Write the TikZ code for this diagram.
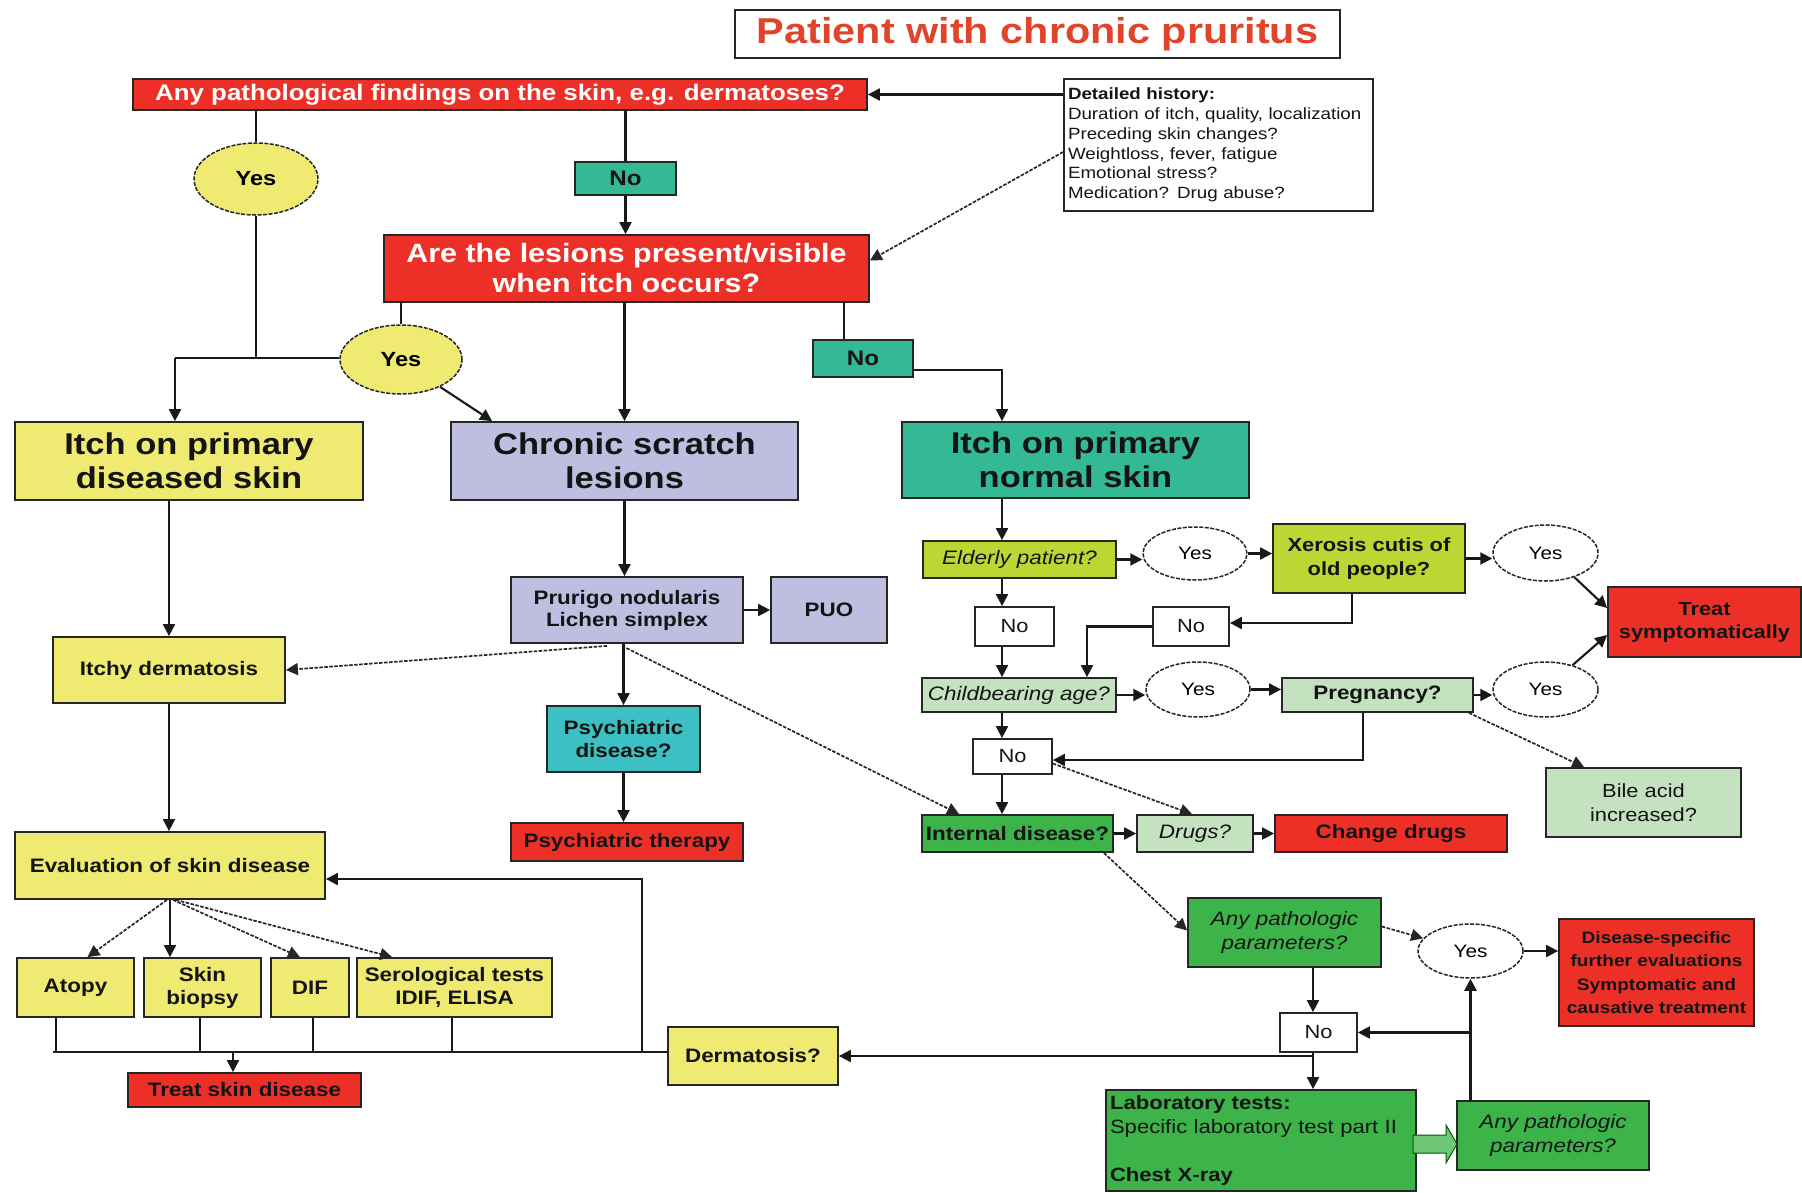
\documentclass[tikz,border=0pt]{standalone}
\usepackage{fontspec}
\setmainfont{Liberation Sans}[FakeStretch=1.15]
\usetikzlibrary{arrows.meta,calc,shapes.geometric}
\definecolor{cred}{HTML}{ED3027}
\definecolor{cyel}{HTML}{EEEA72}
\definecolor{clav}{HTML}{BEBEE0}
\definecolor{cteal}{HTML}{33B996}
\definecolor{ccyan}{HTML}{3CC0C3}
\definecolor{cyg}{HTML}{BDD633}
\definecolor{clg}{HTML}{C4E2C0}
\definecolor{cgrn}{HTML}{3CB44A}
\definecolor{ctitle}{HTML}{E0452C}
\begin{document}
\begin{tikzpicture}[x=1pt,y=-1pt,
  bx/.style={draw=black!85, line width=1.8pt, inner sep=1pt, align=center, text=black!92},
  ln/.style={line width=2.1pt, draw=black!90},
  arr/.style={ln, -{Triangle[length=12pt,width=12pt]}},
  dln/.style={line width=1.7pt, draw=black!85, dash pattern=on 3.5pt off 1.5pt},
  darr/.style={dln, -{Triangle[length=12pt,width=12pt]}},
  ov/.style={ellipse, draw=black!85, line width=1.5pt, dash pattern=on 4pt off 1.5pt, inner sep=0pt},
  fS/.style={font=\fontsize{19.5}{23}\selectfont\bfseries},
  fR/.style={font=\fontsize{19}{23}\selectfont},
  fI/.style={font=\fontsize{19.5}{23}\selectfont\itshape},
  fL/.style={font=\fontsize{30}{34}\selectfont\bfseries},
]
\useasboundingbox (0,0) rectangle (1802,1192);

% ---------- top ----------
\node[bx, fill=white, minimum width=605pt, minimum height=48pt, text=ctitle,
      font=\fontsize{36}{40}\selectfont\bfseries] (title) at (1037.5,34) {Patient with chronic pruritus};
\node[bx, fill=cred, text=white, minimum width=734pt, minimum height=31pt,
      font=\fontsize{22.5}{26}\selectfont\bfseries] (anyp) at (500,94.5) {Any pathological findings on the skin, e.g. dermatoses?};
\node[bx, fill=white, minimum width=309pt, minimum height=132pt, text width=301pt, inner xsep=4pt, align=left,
      font=\fontsize{16.3}{19.8}\selectfont] (hist) at (1218.5,145)
      {\textbf{Detailed history:}\\Duration of itch, quality, localization\\Preceding skin changes?\\Weightloss, fever, fatigue\\Emotional stress?\\Medication? Drug abuse?};
\node[ov, fill=cyel, minimum width=124pt, minimum height=72pt, font=\fontsize{20.5}{24}\selectfont\bfseries] (yes1) at (256,179) {Yes};
\node[bx, fill=cteal, minimum width=101pt, minimum height=33pt, font=\fontsize{21}{24}\selectfont\bfseries] (noA) at (625.5,178.5) {No};
\node[bx, fill=cred, text=white, minimum width=485pt, minimum height=67pt,
      font=\fontsize{26.5}{30}\selectfont\bfseries] (are) at (626.5,268.5) {Are the lesions present/visible\\when itch occurs?};
\node[ov, fill=cyel, minimum width=122pt, minimum height=69pt, font=\fontsize{20.5}{24}\selectfont\bfseries] (yes2) at (401,359.5) {Yes};
\node[bx, fill=cteal, minimum width=100pt, minimum height=37pt, font=\fontsize{21}{24}\selectfont\bfseries] (noB) at (863,358.5) {No};

% ---------- main categories ----------
\node[bx, fill=cyel, minimum width=348pt, minimum height=78pt, fL] (diseased) at (189,461) {Itch on primary\\diseased skin};
\node[bx, fill=clav, minimum width=347pt, minimum height=78pt, fL] (chronic) at (624.5,461) {Chronic scratch\\lesions};
\node[bx, fill=cteal, minimum width=347pt, minimum height=76pt, fL] (normal) at (1075.5,460) {Itch on primary\\normal skin};

% ---------- left column ----------
\node[bx, fill=cyel, minimum width=232pt, minimum height=66pt, fS] (itchy) at (169,670) {Itchy dermatosis};
\node[bx, fill=cyel, minimum width=310pt, minimum height=67pt, fS] (eval) at (170,865.5) {Evaluation of skin disease};
\node[bx, fill=cyel, minimum width=117pt, minimum height=59pt, fS] (atopy) at (75.5,987.5) {Atopy};
\node[bx, fill=cyel, minimum width=117pt, minimum height=59pt, fS] (skin) at (202.5,987.5) {Skin\\biopsy};
\node[bx, fill=cyel, minimum width=78pt, minimum height=59pt, fS] (dif) at (310,987.5) {DIF};
\node[bx, fill=cyel, minimum width=195pt, minimum height=59pt, fS] (sero) at (454.5,987.5) {Serological tests\\IDIF, ELISA};
\node[bx, fill=cred, minimum width=233pt, minimum height=34pt, fS] (treatskin) at (244.5,1090) {Treat skin disease};
\node[bx, fill=cyel, minimum width=170pt, minimum height=58pt, fS] (derm) at (753,1056) {Dermatosis?};

% ---------- middle column ----------
\node[bx, fill=clav, minimum width=232pt, minimum height=66pt, font=\fontsize{19.5}{22}\selectfont\bfseries] (prurigo) at (627,610) {Prurigo nodularis\\Lichen simplex};
\node[bx, fill=clav, minimum width=116pt, minimum height=66pt, fS] (puo) at (829,610) {PUO};
\node[bx, fill=ccyan, minimum width=153pt, minimum height=66pt, fS] (psyd) at (623.5,739) {Psychiatric\\disease?};
\node[bx, fill=cred, minimum width=232pt, minimum height=38pt, fS] (psyt) at (627,842) {Psychiatric therapy};

% ---------- right part ----------
\node[bx, fill=cyg, minimum width=193pt, minimum height=37pt, fI] (elderly) at (1019.5,559.5) {Elderly patient?};
\node[ov, fill=white, minimum width=104pt, minimum height=53pt, font=\fontsize{18}{22}\selectfont] (yesA) at (1195,553.5) {Yes};
\node[bx, fill=cyg, minimum width=192pt, minimum height=69pt, font=\fontsize{19}{24}\selectfont\bfseries] (xero) at (1369,558.5) {Xerosis cutis of\\old people?};
\node[ov, fill=white, minimum width=105pt, minimum height=56pt, font=\fontsize{18}{22}\selectfont] (yesB) at (1545.5,553) {Yes};
\node[bx, fill=cred, minimum width=193pt, minimum height=70pt, font=\fontsize{19}{23}\selectfont\bfseries] (treatsym) at (1704.5,622) {Treat\\symptomatically};
\node[bx, fill=white, minimum width=79pt, minimum height=39pt, fR] (noC) at (1014.5,626.5) {No};
\node[bx, fill=white, minimum width=76pt, minimum height=39pt, fR] (noD) at (1191,626.5) {No};
\node[bx, fill=clg, minimum width=194pt, minimum height=34pt, fI] (child) at (1019,695) {Childbearing age?};
\node[ov, fill=white, minimum width=104pt, minimum height=55pt, font=\fontsize{18}{22}\selectfont] (yesD) at (1198,689.5) {Yes};
\node[bx, fill=clg, minimum width=191pt, minimum height=34pt, fS] (preg) at (1377.5,695) {Pregnancy?};
\node[ov, fill=white, minimum width=105pt, minimum height=55pt, font=\fontsize{18}{22}\selectfont] (yesC) at (1545.5,689.5) {Yes};
\node[bx, fill=white, minimum width=79pt, minimum height=35pt, fR] (noE) at (1012.5,756.5) {No};
\node[bx, fill=clg, minimum width=195pt, minimum height=69pt, font=\fontsize{19}{24}\selectfont] (bile) at (1643.5,802.5) {Bile acid\\increased?};
\node[bx, fill=cgrn, minimum width=191pt, minimum height=37pt, fS] (internal) at (1017.5,833.5) {Internal disease?};
\node[bx, fill=clg, minimum width=116pt, minimum height=37pt, fI] (drugs) at (1195,833.5) {Drugs?};
\node[bx, fill=cred, minimum width=232pt, minimum height=37pt, fS] (change) at (1391,833.5) {Change drugs};
\node[bx, fill=cgrn, minimum width=193pt, minimum height=69pt, font=\fontsize{19.5}{24}\selectfont\itshape] (anyp1) at (1284.5,932.5) {Any pathologic\\parameters?};
\node[ov, fill=white, minimum width=105pt, minimum height=54pt, font=\fontsize{18}{22}\selectfont] (yesE) at (1470.5,951) {Yes};
\node[bx, fill=cred, minimum width=195pt, minimum height=107pt, font=\fontsize{16.6}{23.5}\selectfont\bfseries] (dis) at (1656.5,972.5) {Disease-specific\\further evaluations\\Symptomatic and\\causative treatment};
\node[bx, fill=white, minimum width=77pt, minimum height=39pt, fR] (noF) at (1318.5,1032.5) {No};
\node[bx, fill=cgrn, minimum width=310pt, minimum height=101pt, text width=302pt, inner xsep=4pt, align=left,
      font=\fontsize{19.2}{24}\selectfont] (lab) at (1261,1140.5)
      {\textbf{Laboratory tests:}\\Specific laboratory test part II\\\strut\\\textbf{Chest X-ray}};
\node[bx, fill=cgrn, minimum width=192pt, minimum height=69pt, font=\fontsize{19.5}{24}\selectfont\itshape] (anyp2) at (1553,1135.5) {Any pathologic\\parameters?};

% ---------- helper coordinates ----------
\coordinate (j1) at (175,358);
\coordinate (cB) at (844,0);
\coordinate (c10) at (1002,370);
\coordinate (xA) at (1002,0);
\coordinate (xX) at (1352,0);
\coordinate (yX) at (0,623);
\coordinate (xC) at (1087,0);
\coordinate (xP) at (1363,0);
\coordinate (yP) at (0,760);
\coordinate (xN) at (1313,0);
\coordinate (yBus) at (0,1052);
\coordinate (eR) at (642,879);
\coordinate (tS) at (233,1052);
\coordinate (bA) at (56,0);
\coordinate (bS) at (200,0);
\coordinate (bD) at (313,0);
\coordinate (bE) at (452,0);
\coordinate (bL) at (53,0);

% ---------- connectors: top ----------
\draw[arr] (hist.west |- anyp.east) -- (anyp.east);
\draw[ln] (yes1.north |- anyp.south) -- (yes1.north);
\draw[ln] (yes1.south) -- (yes1.south |- j1);
\draw[ln] (yes2.west |- j1) -- (j1);
\draw[arr] (j1) -- (j1 |- diseased.north);
\draw[ln] (yes2.north |- are.south) -- (yes2.north);
\draw[arr] (yes2.-35) -- ($(chronic.north west)+(42,0)$);
\draw[ln] (noA.north |- anyp.south) -- (noA.north);
\draw[arr] (noA.south) -- (noA.south |- are.north);
\draw[darr] ($(hist.west)+(0,7)$) -- ($(are.east)+(0,-8)$);
\draw[ln] (cB |- are.south) -- (cB |- noB.north);
\draw[arr] (noB.east |- c10) -- (c10) -- (c10 |- normal.north);
\draw[arr] (are.south -| chronic.north) -- (chronic.north);

% ---------- left / middle ----------
\draw[arr] (itchy.north |- diseased.south) -- (itchy.north);
\draw[arr] (itchy.south) -- (itchy.south |- eval.north);
\draw[darr] ($(prurigo.south)+(-20,2)$) -- (itchy.east);
\draw[arr] (chronic.south) -- (chronic.south |- prurigo.north);
\draw[arr] (prurigo.east) -- (puo.west);
\draw[arr] (psyd.north |- prurigo.south) -- (psyd.north);
\draw[arr] (psyd.south) -- (psyd.south |- psyt.north);
\draw[darr] ($(prurigo.south)+(-5,2)$) -- ($(internal.north west)+(38,0)$);

\draw[darr] ($(eval.south)+(-3,0)$) -- ($(atopy.north)+(12,0)$);
\draw[arr] (eval.south) -- (eval.south |- skin.north);
\draw[darr] ($(eval.south)+(3,0)$) -- ($(dif.north)+(-10,0)$);
\draw[darr] ($(eval.south)+(6,0)$) -- ($(sero.north west)+(36,0)$);
\draw[ln] (bA |- atopy.south) -- (bA |- yBus);
\draw[ln] (bS |- skin.south) -- (bS |- yBus);
\draw[ln] (bD |- dif.south) -- (bD |- yBus);
\draw[ln] (bE |- sero.south) -- (bE |- yBus);
\draw[ln] (bL |- yBus) -- (derm.west |- yBus);
\draw[arr] (eR |- yBus) -- (eR) -- (eval.east |- eR);
\draw[arr] (tS) -- (tS |- treatskin.north);

% ---------- right ----------
\draw[arr] (xA |- normal.south) -- (xA |- elderly.north);
\draw[arr] (elderly.east) -- (elderly.east -| yesA.west);
\draw[arr] (yesA.east) -- (yesA.east -| xero.west);
\draw[arr] (xero.east) -- (xero.east -| yesB.west);
\draw[arr] (yesB.-40) -- ($(treatsym.west)+(0,-14)$);
\draw[arr] (yesC.42) -- ($(treatsym.west)+(0,13)$);
\draw[arr] (xA |- elderly.south) -- (xA |- noC.north);
\draw[arr] (xA |- noC.south) -- (xA |- child.north);
\draw[arr] (xX |- xero.south) -- (xX |- yX) -- (noD.east |- yX);
\draw[arr] (noD.west) -- (xC |- noD.west) -- (xC |- child.north);
\draw[arr] (child.east) -- (child.east -| yesD.west);
\draw[arr] (yesD.east) -- (yesD.east -| preg.west);
\draw[arr] (preg.east) -- (preg.east -| yesC.west);
\draw[arr] (xA |- child.south) -- (xA |- noE.north);
\draw[arr] (xP |- preg.south) -- (xP |- yP) -- (noE.east |- yP);
\draw[darr] ($(noE.east)+(0,7)$) -- ($(drugs.north)+(-3,0)$);
\draw[darr] ($(preg.south east)+(-5,0)$) -- ($(bile.north west)+(39,0)$);
\draw[arr] (xA |- noE.south) -- (xA |- internal.north);
\draw[arr] (internal.east) -- (drugs.west);
\draw[arr] (drugs.east) -- (change.west);
\draw[darr] ($(internal.south east)+(-10,0)$) -- ($(anyp1.west)+(0,-2)$);
\draw[darr] ($(anyp1.east)+(0,-6)$) -- (yesE.165);
\draw[arr] (yesE.east) -- (yesE.east -| dis.west);
\draw[arr] (xN |- anyp1.south) -- (xN |- noF.north);
\draw[arr] (xN |- noF.south) -- (xN |- lab.north);
\draw[arr] (xN |- derm.east) -- (derm.east);
\draw[arr] (yesE.south |- anyp2.north) -- (yesE.south);
\draw[arr] (yesE.south |- noF.east) -- (noF.east);

% block arrow
\draw[fill=cgrn!75!white, draw=green!35!black, line width=1pt]
  (1413,1135) -- (1446,1135) -- (1446,1125) -- (1457,1144) -- (1446,1163) -- (1446,1153) -- (1413,1153) -- cycle;
\end{tikzpicture}
\end{document}
